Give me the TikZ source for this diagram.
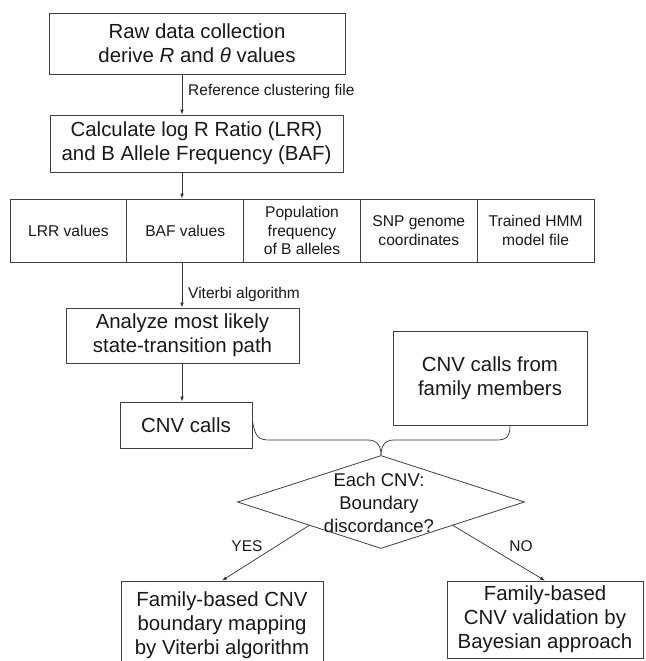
\documentclass[tikz,border=0pt]{standalone}
\usepackage{fontspec}
\setmainfont{Liberation Sans}
\usetikzlibrary{shapes.geometric,arrows.meta}
\begin{document}
\begin{tikzpicture}[x=1pt,y=-1pt,
  box/.style={draw=black!75,line width=0.8pt,align=center,inner sep=0pt,text=black!90,font=\fontsize{20.4}{24}\selectfont},
  cell/.style={draw=black!75,line width=0.8pt,align=center,inner sep=0pt,text=black!90,minimum width=116.8pt,minimum height=63pt,font=\fontsize{15.6}{18.5}\selectfont},
  arr/.style={draw=black!80,line width=0.7pt,-{Latex[length=5pt,width=3.5pt]}},
  conn/.style={draw=black!80,line width=0.7pt},
  lbl/.style={font=\fontsize{15.5}{18}\selectfont,inner sep=0pt,text=black!90}]
\useasboundingbox (0,0) rectangle (645,661);
\fill[white] (0,0) rectangle (645,661);
\coordinate (ax) at (182,0);
% top boxes
\node[box,minimum width=296pt,minimum height=61pt] (b1) at (197,43.5) {Raw data collection\\derive \textit{R} and \textit{θ} values};
\node[box,minimum width=293pt,minimum height=57pt] (b2) at (196.5,143.5) {Calculate log R Ratio (LRR)\\and B Allele Frequency (BAF)};
% row of cells
\node[cell] (c1) at (68.4,230.5) {LRR values};
\node[cell] (c2) at (185.2,230.5) {BAF values};
\node[cell] (c3) at (302,230.5) {Population\\frequency\\of B alleles};
\node[cell] (c4) at (418.8,230.5) {SNP genome\\coordinates};
\node[cell] (c5) at (535.6,230.5) {Trained HMM\\model file};
% middle
\node[box,minimum width=233pt,minimum height=55pt] (an) at (182.5,335.5) {Analyze most likely\\state-transition path};
\node[box,minimum width=194pt,minimum height=94pt] (fam) at (490,378) {CNV calls from\\family members};
\node[box,minimum width=132pt,minimum height=46pt] (cnv) at (186,425) {CNV calls};
% decision
\node[diamond,draw=black!75,line width=0.8pt,minimum width=287pt,minimum height=93pt,inner sep=0pt] (dia) at (381,502) {};
\node[align=center,inner sep=0pt,text=black!90,font=\fontsize{18.5}{23}\selectfont] (dt) at (379,503) {Each CNV:\\Boundary\\discordance?};
% bottom boxes
\node[box,minimum width=202pt,minimum height=89pt] (lb) at (222,625.5) {Family-based CNV\\boundary mapping\\by Viterbi algorithm};
\node[box,minimum width=196pt,minimum height=77pt] (rb) at (545,619.5) {Family-based\\CNV validation by\\Bayesian approach};
% labels
\node[lbl,anchor=west] (l1) at (188,91) {Reference clustering file};
\node[lbl,anchor=west] (l2) at (188,294) {Viterbi algorithm};
\node[lbl] (yes) at (247,546) {YES};
\node[lbl] (no) at (521,546) {NO};
% connectors
\draw[arr] (b1.south -| ax) -- (b2.north -| ax);
\draw[arr] (b2.south -| ax) -- (c2.north -| ax);
\draw[arr] (c2.south -| ax) -- (an.north -| ax);
\draw[arr] (an.south -| ax) -- (cnv.north -| ax);
\draw[conn] ([yshift=4pt]cnv.east) .. controls +(3,16) and +(-12,0) .. (270,440) -- (368,440) .. controls +(10,0) and +(0,-8) .. (dia.north);
\draw[conn] (dia.north) .. controls +(0,-8) and +(-10,0) .. (394,440) -- (496,440) .. controls +(10,0) and +(0,12) .. ([xshift=20pt]fam.south);
\draw[arr] (dia.south west) -- (lb.north);
\draw[arr] (dia.south east) -- (rb.north);
\end{tikzpicture}
\end{document}
